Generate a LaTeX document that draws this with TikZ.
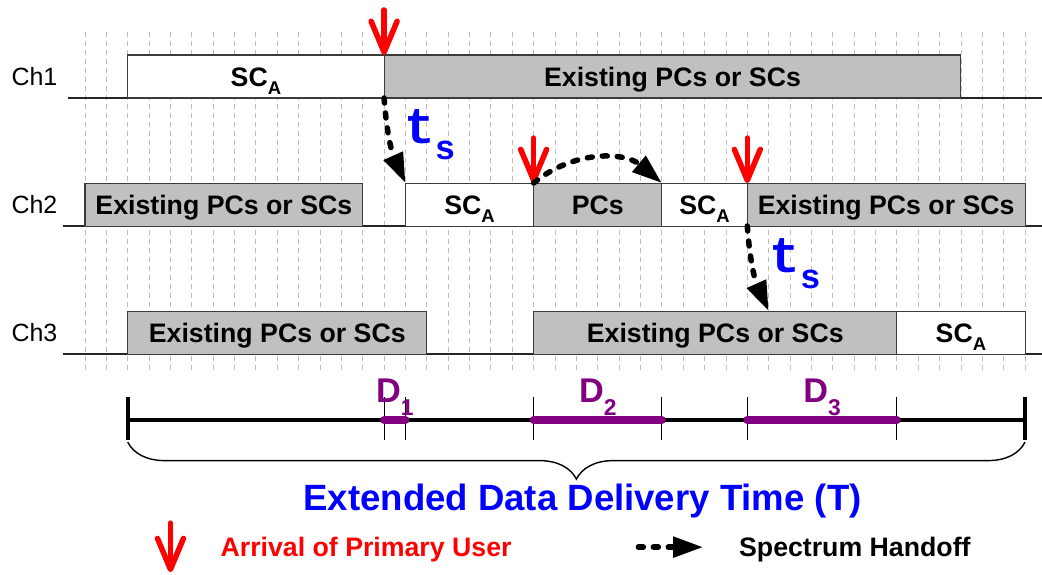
\documentclass[tikz,border=0pt]{standalone}
\usepackage{fontspec}
\setmainfont{Liberation Sans}
\setmonofont{Liberation Mono}
\usepackage{tikz}
\usetikzlibrary{arrows.meta, decorations.pathreplacing, positioning, calc}

\definecolor{busygray}{RGB}{192,192,192}
\definecolor{edgegray}{RGB}{60,60,60}
\definecolor{gridgray}{RGB}{190,190,190}
\definecolor{dpurple}{RGB}{128,0,128}
\definecolor{tsblue}{RGB}{0,0,255}

\newcommand{\boxfont}{\fontsize{15.2}{18}\selectfont\bfseries}
\newcommand{\lowsub}[1]{\raisebox{-4.6pt}{\fontsize{10.5}{12}\selectfont #1}}
\newcommand{\dsub}[1]{\raisebox{-7.4pt}{\fontsize{13}{14}\selectfont #1}}
\newcommand{\tsym}{\ttfamily\bfseries\fontsize{29}{30}\selectfont t\raisebox{-9.6pt}{\fontsize{19.5}{20}\selectfont s}}

\begin{document}
\begin{tikzpicture}[x=0.42728cm, y=-0.02cm,
        free/.style={rectangle, draw=edgegray, line width=0.6pt, fill=white, minimum height=0.86cm, inner sep=0pt, outer sep=0pt, anchor=south west, font=\boxfont, text height=10.9pt, text depth=0pt},
        busy/.style={free, fill=busygray},
        cells/.style={minimum width=#1*0.42728cm},
        chan/.style={font=\fontsize{14.2}{16}\selectfont, text height=10.2pt, text depth=0pt, inner sep=0pt},
        gridline/.style={gridgray, line width=0.5pt, dash pattern=on 0.09cm off 0.09cm},
        baseline/.style={black!85, line width=0.7pt},
        arrival/.style={red, line width=0.11cm, line cap=round, -{Straight Barb[length=0.62cm, width=0.52cm, round]}},
        handoff/.style={line width=0.11cm, dash pattern=on 0.1cm off 0.2cm, line cap=round, -{Triangle[length=0.6cm, width=0.4cm]}},
        tlabel/.style={text=tsblue, anchor=base west, inner sep=0pt},
        dseg/.style={dpurple, line width=0.16cm, line cap=round},
        dlabel/.style={font=\fontsize{19.5}{22}\selectfont\bfseries, text=dpurple, anchor=base, inner sep=0pt},
        legend/.style={font=\boxfont, anchor=west, text height=10.9pt, text depth=0pt, inner sep=0pt}]

        \useasboundingbox (-3.9786,0) rectangle (44.794,574);

        % time slots
        \foreach \i in {0,...,44}
            \draw[gridline] (\i,32) -- (\i,373);

        % channel lines
        \draw[baseline] (-0.8,98) -- (44.8,98);
        \draw[baseline] (-1.03,226) -- (44.8,226);
        \draw[baseline] (-1.03,354) -- (44.8,354);
        \node (ch1) [chan] at (-2.364,76.5) {Ch1};
        \node (ch2) [chan] at (-2.364,204.5) {Ch2};
        \node (ch3) [chan] at (-2.364,332.5) {Ch3};

        % Ch1
        \node (sca1) [free, cells=12] at (2,98) {SC\lowsub{A}};
        \node (ex1) [busy, cells=27] at (14,98) {Existing PCs or SCs};

        % Ch2
        \node (ex2a) [busy, cells=13] at (0,226) {Existing PCs or SCs};
        \node (sca2) [free, cells=6] at (15,226) {SC\lowsub{A}};
        \node (pcs) [busy, cells=6] at (21,226) {PCs};
        \node (sca3) [free, cells=4] at (27,226) {SC\lowsub{A}};
        \node (ex2b) [busy, cells=13] at (31,226) {Existing PCs or SCs};

        % Ch3
        \node (ex3a) [busy, cells=14] at (2,354) {Existing PCs or SCs};
        \node (ex3b) [busy, cells=17] at (21,354) {Existing PCs or SCs};
        \node (sca4) [free, cells=6] at (38,354) {SC\lowsub{A}};

        % primary users arriving
        \coordinate (pu1) at (14,10);
        \coordinate (pu2) at (21,138);
        \coordinate (pu3) at (31,138);
        \draw[arrival] (pu1) -- (sca1.north east);
        \draw[arrival] (pu2) -- (pcs.north west);
        \draw[arrival] (pu3) -- (sca3.north east);

        % spectrum handoffs
        \coordinate (h3) at (32,311);
        \draw[handoff] (sca1.south east) to[bend right=10] (sca2.north west);
        \draw[handoff] (pcs.north west) to[bend left=40] (pcs.north east);
        \draw[handoff] (sca3.south east) to[bend right=10] (h3);
        \node (ts1) [tlabel] at (14.93,143) {\tsym};
        \node (ts2) [tlabel] at (32.02,272) {\tsym};

        % delivery time line
        \coordinate (tl0) at (2,420);
        \coordinate (tl1) at (44,420);
        \foreach \x in {14,15,21,27,31,38}
            \draw[line width=0.6pt] (\x,397) -- (\x,440);
        \draw[line width=0.08cm] (tl0) -- (tl1);
        \draw[line width=0.08cm] (2,397) -- (2,440);
        \draw[line width=0.08cm] (44,397) -- (44,440);
        \draw[dseg] (14,420) -- (15,420);
        \draw[dseg] (21,420) -- (27,420);
        \draw[dseg] (31,420) -- (38,420);
        \node (d1) [dlabel] at (14.5,402) {D\dsub{1}};
        \node (d2) [dlabel] at (24,402) {D\dsub{2}};
        \node (d3) [dlabel] at (34.5,402) {D\dsub{3}};
        \draw[line width=0.8pt, decorate, decoration={brace, amplitude=0.74cm}] (44,442) -- (2,442);
        \node (total) [font=\fontsize{20.8}{24}\selectfont\bfseries, text=tsblue, text height=14.9pt, text depth=0pt, inner sep=0pt] at (23.29,497) {Extended Data Delivery Time (T)};

        % legend
        \coordinate (lg0) at (4,523);
        \coordinate (lg1) at (4,572);
        \draw[arrival] (lg0) -- (lg1);
        \node (lgpu) [legend, text=red] at (6.33,547) {Arrival of Primary User};
        \coordinate (lg2) at (25.9,547);
        \coordinate (lg3) at (28.93,547);
        \draw[handoff] (lg2) -- (lg3);
        \node (lgho) [legend] at (30.6,547) {Spectrum Handoff};

\end{tikzpicture}
\end{document}
